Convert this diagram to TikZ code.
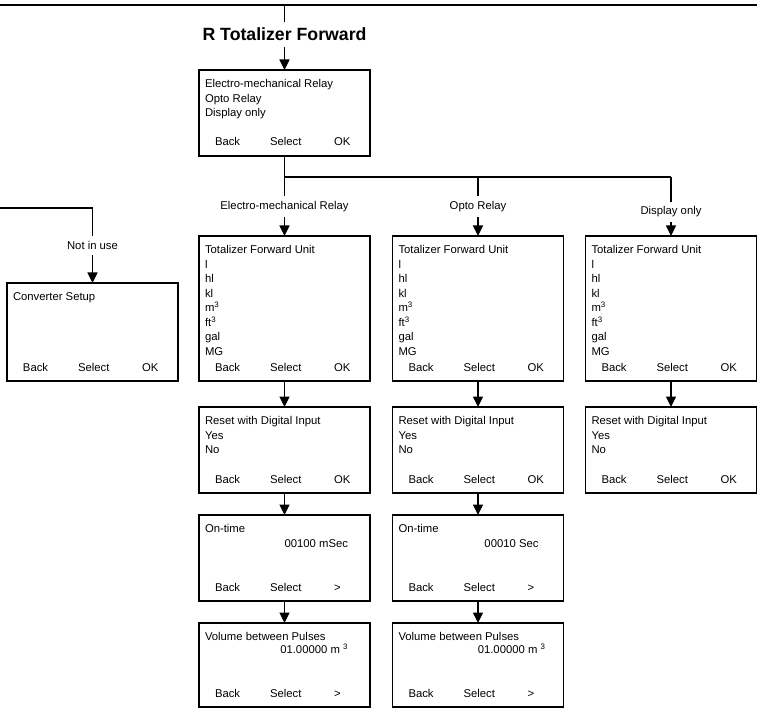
\documentclass[tikz,border=0pt]{standalone}
\usepackage{fontspec}
\setmainfont{Liberation Sans}
\usetikzlibrary{arrows.meta}
\tikzset{
  menu diagram/.style={
    x=1pt, y=1pt, draw=black, line width=1.2pt,
    >={Triangle[length=10.5pt,width=10pt]},
    every node/.style={font=\fontsize{11.3}{14.5}\selectfont,
      text=black, inner sep=0pt, outer sep=0pt}
  },
  menu box/.style={draw, minimum width=171pt},
  menu text/.style={align=left, anchor=north west},
  menu key/.style={anchor=base west},
  menu value/.style={anchor=base east},
  menu branch/.style={fill=white, inner xsep=3pt, inner ysep=5pt},
  menu title/.style={font=\bfseries\fontsize{17.7}{20}\selectfont,
    inner xsep=4pt, inner ysep=6pt}
}
\newcommand{\MenuScreen}[6]{%
  \node[menu box, minimum height=#4] (#1) at (#2,#3) {};
  \node[menu text] (#1-txt) at ([shift={(6,-9.5)}]#1.north west) {#5};
  \node[menu key] (#1-back) at ([shift={(16,10)}]#1.south west) {Back};
  \node[menu key] (#1-sel) at ([shift={(71,10)}]#1.south west) {Select};
  \node[menu key] (#1-ok) at ([shift={(135,10)}]#1.south west) {#6};
}
\newcommand{\UnitList}{Totalizer Forward Unit\\l\\hl\\kl\\m\textsuperscript{3}\\ft\textsuperscript{3}\\gal\\MG}

\begin{document}
\begin{tikzpicture}[menu diagram]
  \useasboundingbox (0,0) rectangle (757,-708);
  \MenuScreen{relay}{284.5}{-113}{86pt}{Electro-mechanical Relay\\Opto Relay\\Display only}{OK}
  \MenuScreen{conv}{92.5}{-332}{98pt}{Converter Setup}{OK}
  \MenuScreen{emrUnit}{284.5}{-308.5}{145pt}{\UnitList}{OK}
  \MenuScreen{optoUnit}{478}{-308.5}{145pt}{\UnitList}{OK}
  \MenuScreen{dispUnit}{671}{-308.5}{145pt}{\UnitList}{OK}
  \MenuScreen{emrReset}{284.5}{-450}{86pt}{Reset with Digital Input\\Yes\\No}{OK}
  \MenuScreen{optoReset}{478}{-450}{86pt}{Reset with Digital Input\\Yes\\No}{OK}
  \MenuScreen{dispReset}{671}{-450}{86pt}{Reset with Digital Input\\Yes\\No}{OK}
  \MenuScreen{emrOn}{284.5}{-558}{86pt}{On-time}{>}
  \MenuScreen{optoOn}{478}{-558}{86pt}{On-time}{>}
  \MenuScreen{emrVol}{284.5}{-665}{84pt}{Volume between Pulses}{>}
  \MenuScreen{optoVol}{478}{-665}{84pt}{Volume between Pulses}{>}
  \node[menu value] (emrOn-val) at ([shift={(-22,-32.5)}]emrOn.north east) {00100 mSec};
  \node[menu value] (optoOn-val) at ([shift={(-25,-32.5)}]optoOn.north east) {00010 Sec};
  \node[menu value] (emrVol-val) at ([shift={(-22,-30)}]emrVol.north east) {01.00000 m \textsuperscript{3}};
  \node[menu value] (optoVol-val) at ([shift={(-18,-30)}]optoVol.north east) {01.00000 m \textsuperscript{3}};
  % entry from the menu above
  \coordinate (rimL) at (0,-5);
  \coordinate (rimR) at (757,-5);
  \coordinate (rimT) at (284.5,-5);
  \draw[line width=2pt] (rimL) -- (rimR);
  \node[menu title] (title) at (284.5,-34.5) {R Totalizer Forward};
  \draw (rimT) -- (title);
  \draw[->] (title) -- (relay);
  % branches
  \coordinate (fork) at (284.5,-177);
  \coordinate (forkO) at (478,-177);
  \coordinate (forkD) at (671,-177);
  \draw (relay) -- (fork) -- (forkD);
  \draw[->] (fork) -- node[menu branch] (lbEmr) {Electro-mechanical Relay} (emrUnit);
  \draw[->] (forkO) -- node[menu branch] (lbOpto) {Opto Relay} (optoUnit);
  \draw[->] (forkD) -- node[menu branch, pos=0.59] (lbDisp) {Display only} (dispUnit);
  \coordinate (spare) at (0,-208);
  \coordinate (spareK) at (92.5,-208);
  \draw[->] (spare) -- (spareK) -- node[menu branch] (lbSpare) {Not in use} (conv);
  \foreach \a/\b in {emrUnit/emrReset, emrReset/emrOn, emrOn/emrVol,
      optoUnit/optoReset, optoReset/optoOn, optoOn/optoVol, dispUnit/dispReset}
    \draw[->] (\a) -- (\b);
\end{tikzpicture}
\end{document}
